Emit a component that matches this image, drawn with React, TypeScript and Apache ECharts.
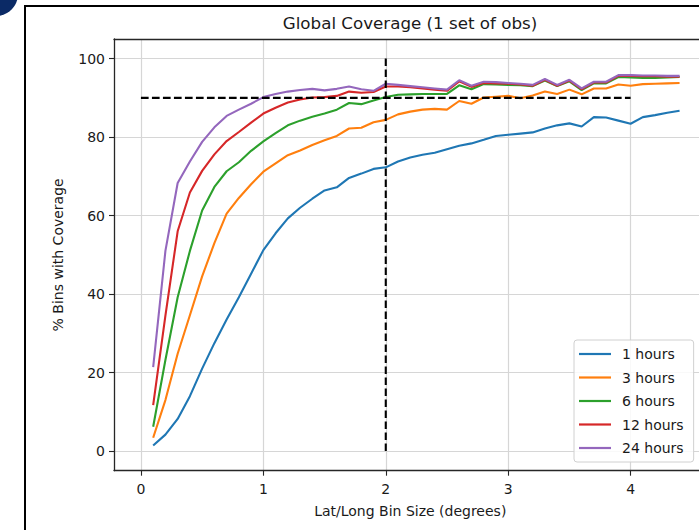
import React, { useEffect, useRef } from "react";
import * as echarts from "echarts";

const binSizes = [
  0.1, 0.2, 0.3, 0.4, 0.5, 0.6, 0.7, 0.8, 0.9, 1.0,
  1.1, 1.2, 1.3, 1.4, 1.5, 1.6, 1.7, 1.8, 1.9, 2.0,
  2.1, 2.2, 2.3, 2.4, 2.5, 2.6, 2.7, 2.8, 2.9, 3.0,
  3.1, 3.2, 3.3, 3.4, 3.5, 3.6, 3.7, 3.8, 3.9, 4.0,
  4.1, 4.2, 4.3, 4.4,
];

const cov1h = [
  1.4, 4.2, 8.2, 14.0, 21.0, 27.5, 33.5, 39.2, 45.2, 51.2,
  55.5, 59.3, 62.0, 64.3, 66.4, 67.2, 69.6, 70.7, 71.9, 72.3,
  73.8, 74.8, 75.5, 76.0, 76.9, 77.8, 78.4, 79.3, 80.3, 80.6,
  80.9, 81.2, 82.2, 83.0, 83.5, 82.7, 85.1, 85.0, 84.2, 83.4,
  85.1, 85.6, 86.2, 86.7,
];

const cov3h = [
  3.4, 13.0, 24.8, 34.6, 44.5, 53.0, 60.5, 64.5, 68.0, 71.2,
  73.3, 75.4, 76.6, 78.0, 79.2, 80.3, 82.2, 82.4, 83.8, 84.4,
  85.8, 86.5, 87.0, 87.2, 87.0, 89.2, 88.5, 90.1, 90.3, 90.5,
  89.9, 90.6, 91.6, 91.0, 92.1, 90.9, 92.4, 92.4, 93.4, 93.1,
  93.5, 93.6, 93.7, 93.8,
];

const cov6h = [
  6.2, 23.2, 39.2, 51.0, 61.3, 67.3, 71.3, 73.6, 76.5, 78.9,
  81.0, 83.0, 84.2, 85.2, 86.0, 87.0, 88.7, 88.4, 89.3, 90.2,
  90.8, 90.9, 91.0, 91.0, 91.0, 93.2, 92.2, 93.5, 93.4, 93.3,
  93.2, 93.0, 94.4, 93.0, 94.2, 92.0, 93.7, 93.7, 95.3, 95.2,
  95.1, 95.1, 95.2, 95.3,
];

const cov12h = [
  11.7, 34.5, 56.0, 65.9, 71.4, 75.6, 79.0, 81.3, 83.7, 86.0,
  87.5, 88.8, 89.6, 90.1, 90.2, 90.5, 91.6, 91.3, 91.5, 92.9,
  92.9, 92.7, 92.4, 92.1, 91.8, 94.2, 92.8, 93.8, 93.7, 93.6,
  93.4, 93.1, 94.6, 93.1, 94.4, 92.2, 93.9, 93.9, 95.6, 95.6,
  95.5, 95.5, 95.4, 95.4,
];

const cov24h = [
  21.4, 51.0, 68.3, 73.8, 78.8, 82.5, 85.4, 87.0, 88.5, 90.2,
  91.0, 91.6, 92.0, 92.3, 91.9, 92.3, 92.9, 92.2, 91.8, 93.6,
  93.3, 93.0, 92.7, 92.4, 92.1, 94.5, 93.1, 94.1, 94.0, 93.8,
  93.6, 93.3, 94.8, 93.3, 94.6, 92.4, 94.1, 94.1, 95.8, 95.8,
  95.7, 95.7, 95.6, 95.6,
];

const seriesNames = ["1 hours", "3 hours", "6 hours", "12 hours", "24 hours"];
const seriesValues = [cov1h, cov3h, cov6h, cov12h, cov24h];
const seriesColors = ["#1f77b4", "#ff7f0e", "#2ca02c", "#d62728", "#9467bd"];

const xTicks = [0, 1, 2, 3, 4];
const yTicks = [0, 20, 40, 60, 80, 100];

const targetCoverage = 90;
const targetLineX = [0, 4];
const targetBin = 2;
const targetBinY = [0, 100];

const FONT = "DejaVu Sans";
const TEXT = "#1a1a1a";
const SPINE = "#262626";
const GRID = "#d6d6d6";

export default function App() {
  const ref = useRef<HTMLDivElement>(null);

  useEffect(() => {
    if (!ref.current) return;
    const chart = echarts.init(ref.current, undefined, { renderer: "svg" });

    const lineSeries = seriesNames.map((name, i) => ({
      name,
      type: "line",
      data: binSizes.map((x, j) => [x, seriesValues[i][j]]),
      color: seriesColors[i],
      symbol: "none",
      showSymbol: false,
      lineStyle: { width: 2.1, color: seriesColors[i] },
      z: 2 + i,
    }));

    const dashStyle = { color: "#000", width: 2.1, type: [7.7, 3.3] };

    chart.setOption({
      animation: false,
      textStyle: { fontFamily: FONT },
      grid: { left: 114, top: 39, width: 592.5, height: 431.7, show: false },
      xAxis: [
        {
          type: "value",
          position: "bottom",
          min: -0.22,
          max: 4.62,
          name: "Lat/Long Bin Size (degrees)",
          nameLocation: "middle",
          nameGap: 33,
          nameTextStyle: { fontSize: 14, color: TEXT },
          axisLine: { show: true, onZero: false, lineStyle: { color: SPINE, width: 1.3 } },
          axisTick: { show: true, customValues: xTicks, length: 5, lineStyle: { color: SPINE, width: 1.1 } },
          axisLabel: { customValues: xTicks, margin: 11, fontSize: 14, color: TEXT },
          splitLine: { show: true, lineStyle: { color: GRID, width: 1.2 } },
        },
        {
          type: "value",
          position: "top",
          min: -0.22,
          max: 4.62,
          axisLine: { show: true, onZero: false, lineStyle: { color: SPINE, width: 1.3 } },
          axisTick: { show: false },
          axisLabel: { show: false },
          splitLine: { show: false },
        },
      ],
      yAxis: {
        type: "value",
        min: -5,
        max: 105,
        name: "% Bins with Coverage",
        nameLocation: "middle",
        nameGap: 49,
        nameTextStyle: { fontSize: 14, color: TEXT },
        axisLine: { show: true, onZero: false, lineStyle: { color: SPINE, width: 1.3 } },
        axisTick: { show: true, customValues: yTicks, length: 5, lineStyle: { color: SPINE, width: 1.1 } },
        axisLabel: { customValues: yTicks, margin: 9, fontSize: 14, color: TEXT },
        splitLine: { show: true, lineStyle: { color: GRID, width: 1.2 } },
      },
      legend: {
        data: seriesNames,
        orient: "vertical",
        left: 574,
        top: 340,
        icon: "rect",
        itemWidth: 32,
        itemHeight: 2.2,
        itemGap: 7.5,
        padding: [6, 10, 6, 5],
        textStyle: { fontSize: 14, color: TEXT, lineHeight: 16, padding: [0, 0, 0, 6] },
        backgroundColor: "rgba(255,255,255,0.85)",
        borderColor: "#d0d0d0",
        borderWidth: 1,
        borderRadius: 3,
      },
      series: [
        ...lineSeries,
        {
          name: "target-coverage",
          type: "line",
          data: targetLineX.map((x) => [x, targetCoverage]),
          symbol: "none",
          lineStyle: dashStyle,
          silent: true,
          z: 10,
        },
        {
          name: "target-bin",
          type: "line",
          data: targetBinY.map((y) => [targetBin, y]),
          symbol: "none",
          lineStyle: dashStyle,
          silent: true,
          z: 10,
        },
      ],
      graphic: [
        {
          type: "polyline",
          shape: { points: [[25, 600], [25, 6], [760, 6]] },
          style: { fill: "none", stroke: "#000", lineWidth: 2 },
          silent: true,
          z: -1,
        },
        {
          type: "circle",
          shape: { cx: -4, cy: -6, r: 22 },
          style: { fill: "#0b2a66" },
          silent: true,
        },
        {
          type: "text",
          x: 410,
          y: 23,
          style: {
            text: "Global Coverage (1 set of obs)",
            font: `16.7px "${FONT}"`,
            fill: TEXT,
            textAlign: "center",
            textVerticalAlign: "middle",
          },
          silent: true,
        },
      ],
    });

    return () => chart.dispose();
  }, []);

  return (
    <div style={{ position: "fixed", left: 0, top: 0, width: 699, height: 530, overflow: "hidden", background: "#fff" }}>
      <div ref={ref} style={{ width: 730, height: 530 }} />
    </div>
  );
}
